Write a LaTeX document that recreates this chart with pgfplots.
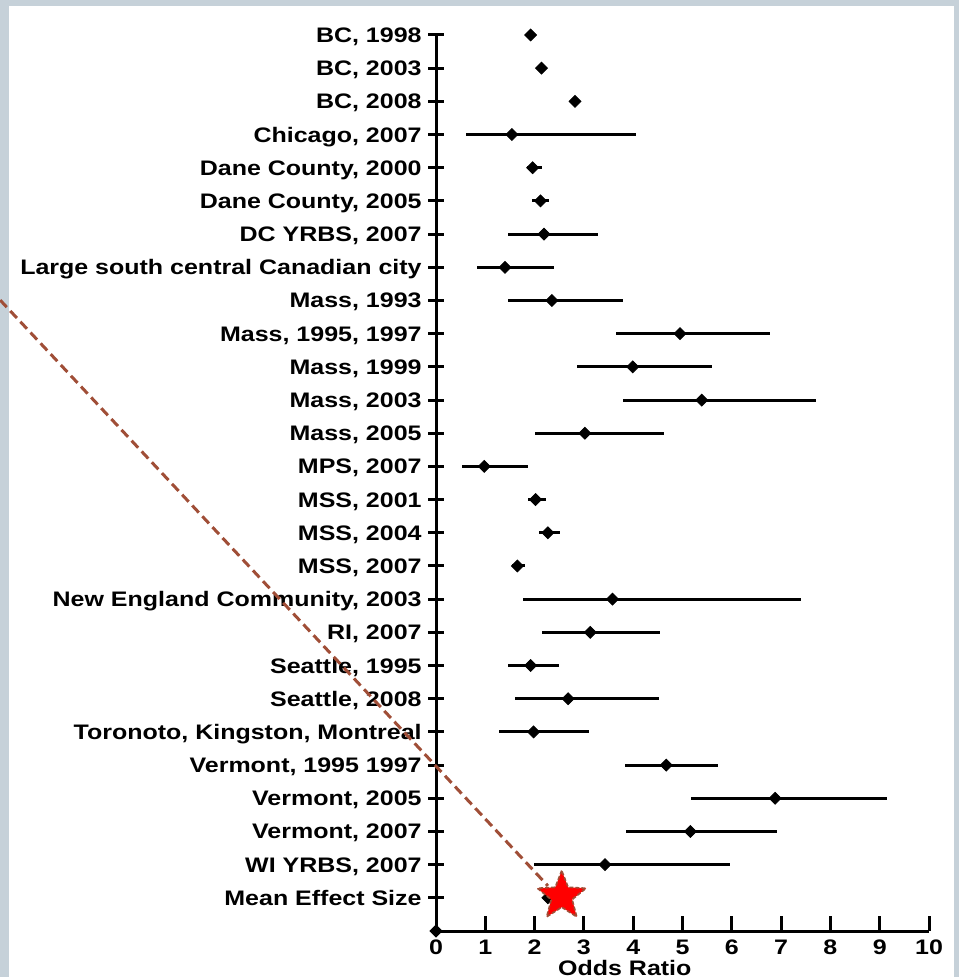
\documentclass[border=0pt]{standalone}
\usepackage{pgfplots}
\pgfplotsset{compat=1.18}
\usepackage{pgfplotstable}
\usepackage{fontspec}
\setmainfont{Liberation Sans}[FakeStretch=1.19]

\definecolor{bordergray}{RGB}{198,209,217}
\definecolor{brownc}{RGB}{160,78,55}

\pgfdeclareplotmark{fstar}{%
  \pgfpathmoveto{\pgfpointpolar{90}{\pgfplotmarksize}}%
  \pgfpathlineto{\pgfpointpolar{126}{0.43\pgfplotmarksize}}%
  \pgfpathlineto{\pgfpointpolar{162}{\pgfplotmarksize}}%
  \pgfpathlineto{\pgfpointpolar{198}{0.43\pgfplotmarksize}}%
  \pgfpathlineto{\pgfpointpolar{234}{\pgfplotmarksize}}%
  \pgfpathlineto{\pgfpointpolar{270}{0.43\pgfplotmarksize}}%
  \pgfpathlineto{\pgfpointpolar{306}{\pgfplotmarksize}}%
  \pgfpathlineto{\pgfpointpolar{342}{0.43\pgfplotmarksize}}%
  \pgfpathlineto{\pgfpointpolar{18}{\pgfplotmarksize}}%
  \pgfpathlineto{\pgfpointpolar{54}{0.43\pgfplotmarksize}}%
  \pgfpathclose
  \pgfusepathqfillstroke
}

% row: 27 = BC, 1998 ... 1 = Mean Effect Size
\pgfplotstableread{
row or lo hi
27 1.92 1.92 1.92
26 2.14 2.14 2.14
25 2.82 2.82 2.82
24 1.54 0.60 4.05
23 1.96 1.85 2.14
22 2.12 1.95 2.29
21 2.19 1.46 3.29
20 1.40 0.84 2.39
19 2.35 1.47 3.79
18 4.95 3.65 6.77
17 3.99 2.85 5.60
16 5.39 3.79 7.70
15 3.02 2.00 4.62
14 0.98 0.53 1.86
13 2.02 1.87 2.24
12 2.27 2.09 2.52
11 1.65 1.55 1.81
10 3.58 1.76 7.40
9 3.13 2.16 4.55
8 1.92 1.47 2.50
7 2.68 1.60 4.53
6 1.98 1.28 3.10
5 4.67 3.84 5.71
4 6.88 5.17 9.15
3 5.16 3.86 6.92
2 3.43 1.99 5.96
1 2.27 2.22 2.32
}\foresttable

\begin{document}
\begin{tikzpicture}
\fill[bordergray] (0bp,0bp) rectangle (479.5bp,488.5bp);
\useasboundingbox (0bp,0bp) rectangle (479.5bp,488.5bp);
\fill[white] (4.25bp,0bp) rectangle (477bp,485.5bp);
\begin{axis}[
  at={(218bp,23bp)}, anchor=south west,
  scale only axis, width=246.5bp, height=448bp,
  xmin=0, xmax=10, ymin=0, ymax=27,
  axis x line=bottom, axis y line=left,
  axis line style={-, black, line width=1.5bp},
  major tick length=7.5bp,
  xtick align=inside, ytick align=center,
  tick style={black, line width=1.5bp},
  xtick={0,...,10}, ytick={1,...,27},
  yticklabels={{Mean Effect Size},{WI YRBS, 2007},{Vermont, 2007},{Vermont, 2005},{Vermont, 1995 1997},{Toronoto, Kingston, Montreal},{Seattle, 2008},{Seattle, 1995},{RI, 2007},{New England Community, 2003},{MSS, 2007},{MSS, 2004},{MSS, 2001},{MPS, 2007},{Mass, 2005},{Mass, 2003},{Mass, 1999},{Mass, 1995, 1997},{Mass, 1993},{Large south central Canadian city},{DC YRBS, 2007},{Dane County, 2005},{Dane County, 2000},{Chicago, 2007},{BC, 2008},{BC, 2003},{BC, 1998}},
  /pgf/number format/assume math mode=true,
  tick label style={font=\fontsize{10.5bp}{12bp}\selectfont\bfseries, inner sep=0pt},
  yticklabel style={anchor=base east, xshift=-3.25bp, yshift=-3.75bp},
  xticklabel style={anchor=base, yshift=-11.5bp},
  xlabel={Odds Ratio},
  xlabel style={font=\fontsize{10.5bp}{12bp}\selectfont\bfseries, inner sep=0pt,
    at={(axis description cs:0.383,0)}, anchor=base, yshift=-22bp},
  clip=false,
]
\addplot[black, line width=1.5bp, no marks, forget plot] coordinates {(0,0) (0,27)};
\addplot[only marks, mark=square*, mark size=2.1bp,
  mark options={rotate=45, black, fill=black},
  error bars/.cd, x dir=both, x explicit, error mark=none,
  error bar style={line width=1.5bp, black}]
  table[x=or, y=row,
    x error plus expr=\thisrow{hi}-\thisrow{or},
    x error minus expr=\thisrow{or}-\thisrow{lo}] {\foresttable};
\addplot[only marks, mark=square*, mark size=2.1bp,
  mark options={rotate=45, black, fill=black}] coordinates {(0,0)};
\draw[brownc, line width=1.5bp, dash pattern=on 4.8bp off 2.6bp]
  (axis cs:-8.84,19.01) -- (axis cs:2.27,1.36);
\addplot[only marks, mark=fstar, mark size=12.8bp,
  mark options={fill=red, draw=brownc, line width=0.8bp, dash pattern=on 2bp off 1bp}]
  coordinates {(2.55,1.05)};
\end{axis}
\end{tikzpicture}
\end{document}
